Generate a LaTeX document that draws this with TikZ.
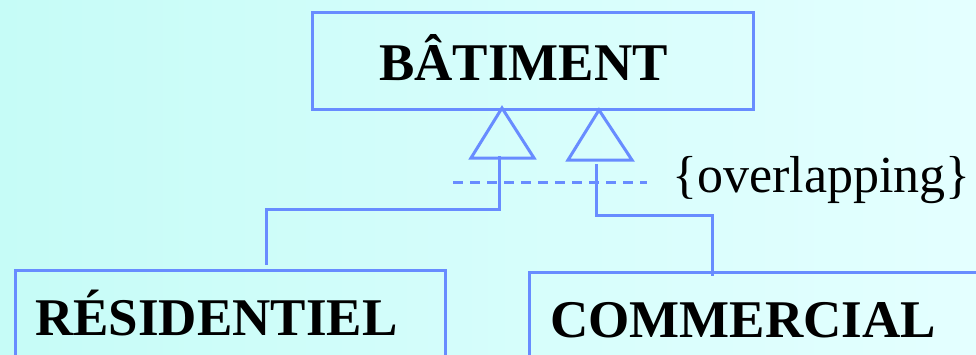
\documentclass[tikz,border=0pt]{standalone}
\usepackage{fontspec}
\setmainfont{Liberation Serif}
\definecolor{bgL}{RGB}{198,252,247}
\definecolor{bgR}{RGB}{228,255,255}
\definecolor{umlblue}{RGB}{104,140,255}
\begin{document}
\begin{tikzpicture}[x=1pt,y=-1pt,
  box/.style={draw=umlblue,line width=3pt,rectangle,inner sep=0pt,anchor=north west},
  lbl/.style={font=\fontsize{53}{60}\selectfont\bfseries,inner sep=0pt},
  conn/.style={draw=umlblue,line width=3pt},
  gentri/.style={draw=umlblue,line width=3pt,line join=miter},
  constr/.style={draw=umlblue,line width=3pt,dash pattern=on 10pt off 7pt}]
\useasboundingbox (0,0) rectangle (976,354);
\clip (0,0) rectangle (976,354);
\shade[left color=bgL,right color=bgR] (0,0) rectangle (976,354);
% boxes
\node[box,minimum width=441pt,minimum height=97pt] (bat) at (311,11) {};
\node[box,minimum width=430pt,minimum height=110pt] (res) at (14,269) {};
\node[box,minimum width=470pt,minimum height=110pt] (com) at (528,271) {};
% labels
\node[lbl,anchor=base] (batl) at (523.5,80) {BÂTIMENT};
\node[lbl,anchor=base west] (resl) at (35,335) {RÉSIDENTIEL};
\node[lbl,anchor=base west] (coml) at (550,337) {COMMERCIAL};
\node[font=\fontsize{52}{60}\selectfont,inner sep=0pt,anchor=base west] (ovl) at (672,192) {\{overlapping\}};
% generalization triangles
\coordinate (apexA) at (502,108);
\coordinate (apexB) at (599,110);
\draw[gentri] (apexA) -- ++(-31,50) coordinate (baseAl) -- ++(63,0) coordinate (baseAr) -- cycle;
\draw[gentri] (apexB) -- ++(-31,50) coordinate (baseBl) -- ++(64,0) coordinate (baseBr) -- cycle;
\coordinate (tailA) at (499,156);
\coordinate (tailB) at (596,164);
\coordinate (bendA1) at (499,209);
\coordinate (bendA2) at (266,209);
\coordinate (endA) at (266,265);
\coordinate (bendB1) at (596,215);
\coordinate (bendB2) at (712,215);
\coordinate (endB) at (712,276);
\draw[conn] (tailA) -- (bendA1) -- (bendA2) -- (endA);
\draw[conn] (tailB) -- (bendB1) -- (bendB2) -- (endB);
% overlapping constraint
\coordinate (dashL) at (453,182);
\coordinate (dashR) at (647,182);
\draw[constr] (dashL) -- (dashR);
\end{tikzpicture}
\end{document}
